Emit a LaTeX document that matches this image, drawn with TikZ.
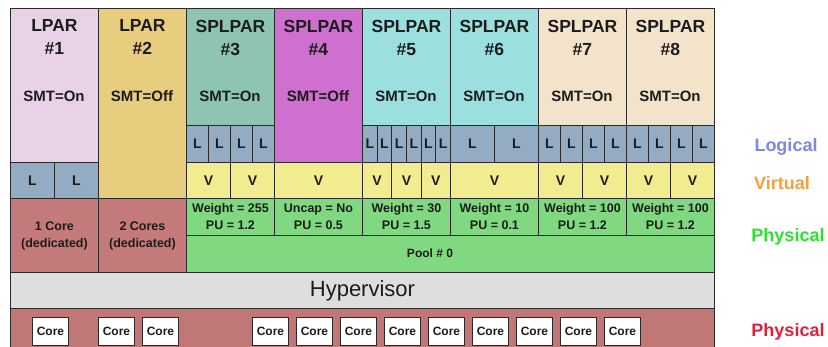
\documentclass[tikz,border=0pt]{standalone}
\usepackage{fontspec}
\setmainfont{Liberation Sans}
\usepackage{xcolor}
\usetikzlibrary{positioning}

\definecolor{edge}{HTML}{2A2A2A}
\definecolor{ink}{HTML}{1C1C1C}
\definecolor{lparone}{HTML}{E8D2E8}
\definecolor{lpartwo}{HTML}{E9CD7E}
\definecolor{spthree}{HTML}{8DC5B0}
\definecolor{spfour}{HTML}{CF6FD0}
\definecolor{spcyan}{HTML}{9BDFDF}
\definecolor{spbeige}{HTML}{F3E3CB}
\definecolor{logfill}{HTML}{93ACC4}
\definecolor{virtfill}{HTML}{F1EC8F}
\definecolor{poolgreen}{HTML}{80D980}
\definecolor{dedred}{HTML}{C47A7A}
\definecolor{hypgray}{HTML}{DEDEDE}
\definecolor{physred}{HTML}{C27777}
\definecolor{logtxt}{HTML}{7F86E6}
\definecolor{virttxt}{HTML}{F2A040}
\definecolor{physgreen}{HTML}{2EE02E}
\definecolor{phystxt}{HTML}{E0203C}

\begin{document}
\begin{tikzpicture}[x=1pt, y=-1pt, line width=0.9pt, every node/.style={text=ink},
  box/.style={draw=edge, inner sep=0pt, anchor=north west},
  part/.style={box, minimum width=88pt},
  ttl/.style={inner sep=0pt, align=center, font=\bfseries\fontsize{17.5}{23}\selectfont},
  smt/.style={inner sep=0pt, font=\bfseries\fontsize{15}{17}\selectfont},
  lcell/.style={box, fill=logfill, minimum height=37pt, font=\bfseries\fontsize{14}{16}\selectfont},
  vcell/.style={box, fill=virtfill, minimum height=36pt, font=\bfseries\fontsize{14}{16}\selectfont},
  wcell/.style={box, fill=poolgreen, minimum width=88pt, minimum height=37pt, align=center, font=\bfseries\fontsize{12.5}{17}\selectfont},
  ded/.style={box, fill=dedred, minimum width=88pt, minimum height=74pt, align=center, font=\bfseries\fontsize{12.5}{17}\selectfont},
  core/.style={box, fill=white, minimum width=36pt, minimum height=28pt, font=\bfseries\fontsize{12}{14}\selectfont},
  side/.style={inner sep=0pt, font=\bfseries\fontsize{18}{20}\selectfont}]
\useasboundingbox (0,0) rectangle (828,347);

% partitions
\node[part, fill=lparone, minimum height=154pt] (p1) at (10,8) {};
\node[part, fill=lpartwo, minimum height=190pt] (p2) at (98,8) {};
\node[part, fill=spthree, minimum height=117pt] (p3) at (186,8) {};
\node[part, fill=spfour, minimum height=154pt] (p4) at (274,8) {};
\node[part, fill=spcyan, minimum height=117pt] (p5) at (362,8) {};
\node[part, fill=spcyan, minimum height=117pt] (p6) at (450,8) {};
\node[part, fill=spbeige, minimum height=117pt] (p7) at (538,8) {};
\node[part, fill=spbeige, minimum height=117pt] (p8) at (626,8) {};
\node[ttl, below=11.5pt of p1.north] (t1) {LPAR\\\#1};
\node[ttl, below=11.5pt of p2.north] (t2) {LPAR\\\#2};
\foreach \k in {3,...,8}
  \node[ttl, below=11.5pt of p\k.north] (t\k) {SPLPAR\\\#\k};
\foreach \k/\cx/\mode in {1/54/On, 2/142/Off, 3/230/On, 4/318/Off, 5/406/On, 6/494/On, 7/582/On, 8/670/On}
  \node[smt] (s\k) at (\cx,96) {SMT=\mode};

% logical and virtual processors
\node[lcell, minimum width=44pt, minimum height=36pt] (l1-1) at (10,162) {L};
\node[lcell, minimum width=44pt, minimum height=36pt] (l1-2) at (54,162) {L};
\foreach \col/\x/\cnt in {3/186/4, 5/362/6, 6/450/2, 7/538/4, 8/626/4} {
  \pgfmathsetmacro\w{88/\cnt}
  \foreach \i in {1,...,\cnt}
    \node[lcell, minimum width=\w pt] (l\col-\i) at ({\x+(\i-1)*\w},125) {L};
}
\foreach \col/\x/\cnt in {3/186/2, 4/274/1, 5/362/3, 6/450/1, 7/538/2, 8/626/2} {
  \pgfmathsetmacro\w{88/\cnt}
  \foreach \i in {1,...,\cnt}
    \node[vcell, minimum width=\w pt] (v\col-\i) at ({\x+(\i-1)*\w},162) {V};
}

% entitlements
\node[ded] (d1) at (10,198) {1 Core\\(dedicated)};
\node[ded] (d2) at (98,198) {2 Cores\\(dedicated)};
\node[wcell] (w3) at (186,198) {Weight = 255\\PU = 1.2};
\node[wcell] (w4) at (274,198) {Uncap = No\\PU = 0.5};
\node[wcell] (w5) at (362,198) {Weight = 30\\PU = 1.5};
\node[wcell] (w6) at (450,198) {Weight = 10\\PU = 0.1};
\node[wcell] (w7) at (538,198) {Weight = 100\\PU = 1.2};
\node[wcell] (w8) at (626,198) {Weight = 100\\PU = 1.2};
\node[box, fill=poolgreen, minimum width=528pt, minimum height=37pt] (pool) at (186,235) {};
\node[inner sep=0pt, font=\bfseries\fontsize{12}{14}\selectfont] (pooltxt) at (430,253.5) {Pool \# 0};

% hypervisor and cores
\node[box, fill=hypgray, minimum width=704pt, minimum height=36pt, font=\fontsize{22}{24}\selectfont] (hyp) at (10,272) {Hypervisor};
\node[box, fill=physred, minimum width=704pt, minimum height=45pt] (phys) at (10,308) {};
\foreach \cx [count=\k] in {32,98,142,252,296,340,384,428,472,516,560,604}
  \node[core] (core\k) at (\cx,317) {Core};

% layer labels
\node[side, text=logtxt] (lbllog) at (786,147) {Logical};
\node[side, text=virttxt] (lblvirt) at (782,183) {Virtual};
\node[side, text=physgreen] (lblpool) at (788,237) {Physical};
\node[side, text=phystxt] (lblphys) at (788,332) {Physical};
\end{tikzpicture}
\end{document}
